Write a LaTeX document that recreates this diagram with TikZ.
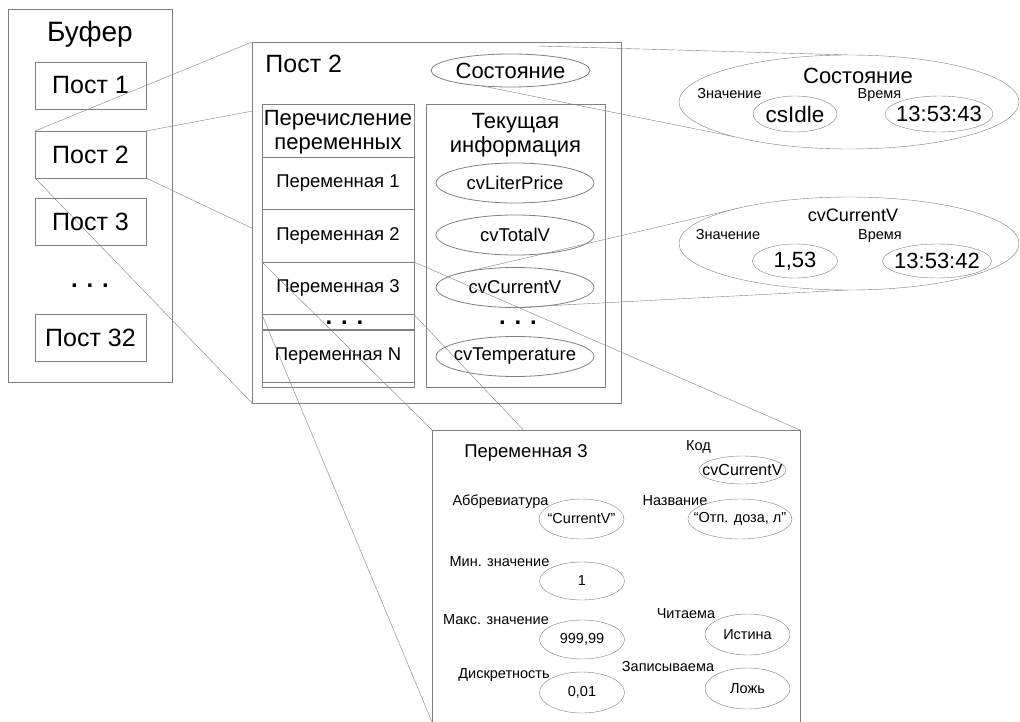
\documentclass[tikz,border=0pt]{standalone}
\usepackage{fontspec}
\setmainfont{Liberation Sans}
\usetikzlibrary{shapes.geometric}
\definecolor{linegray}{gray}{0.5}
\pgfdeclarelayer{back}
\pgfdeclarelayer{front}
\pgfsetlayers{back,main,front}
\newcommand{\fsz}[1]{\fontsize{#1}{#1}\selectfont}
\tikzset{
  panel/.style={draw=linegray, fill=white, inner sep=0pt, outer sep=0pt},
  cell/.style={draw=linegray, inner sep=0pt, outer sep=0pt, minimum width=152, minimum height=52.5, font=\fsz{18.5}},
  oval/.style={ellipse, draw=linegray, inner xsep=-30pt, inner ysep=-8pt, outer sep=0pt},
  bigoval/.style={oval, fill=white, minimum width=340, minimum height=94},
  value/.style={oval, minimum width=85, minimum height=40, font=\fsz{14.5}},
  link/.style={linegray},
  tag/.style={anchor=base, inner sep=0pt, font=\fsz{14.5}},
  headtext/.style={inner sep=0pt, align=center, font=\fontsize{22}{24}\selectfont},
  dots/.style={inner sep=0pt, font=\fsz{24}\bfseries},
}

\begin{document}
\begin{tikzpicture}[x=1pt, y=-1pt, line width=0.8pt]
\useasboundingbox (0,0) rectangle (1020,722);
% buffer of posts
\node[panel, fill=none, minimum width=164, minimum height=373] (buffer) at (90,195.5) {};
\node[anchor=base, inner sep=0pt, font=\fsz{28}] (buftitle) at (90,42) {Буфер};
\foreach \n/\y in {1/85.5, 2/154.5, 3/221.5, 32/337.5}
  \node[panel, fill=none, minimum width=111, minimum height=47, font=\fsz{25}] (post\n) at (90.5,\y) {Пост \n};
\node[dots] (bufdots) at (90,286) {. . .};

% post 2 in detail
\node[panel, minimum width=369, minimum height=361] (bigpost) at (436.5,222.5) {};
\node[anchor=base west, inner sep=0pt, font=\fsz{25}] (bigtitle) at (265,73) {Пост 2};
\node[oval, minimum width=159, minimum height=33, font=\fsz{22}] (sost) at (510.5,70.5) {Состояние};
% list of variables
\node[cell, minimum height=283] (varcol) at (338,245.5) {};
\node[cell, minimum height=53] (varhead) at (338,130.5) {};
\node[headtext] (varheadtxt) at (338,132.5) {Перечисление\\переменных};
\foreach \i/\y in {1/183.25, 2/235.75, 3/288.25}
  \node[cell] (var\i) at (338,\y) {Переменная \i};
\node[cell, minimum height=16] (vardotrow) at (338,322) {};
\node[dots] (vardots) at (344.5,323) {. . .};
\node[cell] (varN) at (338,356) {Переменная N};
% current info
\node[cell, minimum width=179, minimum height=283] (infocol) at (515.5,245.5) {};
\node[headtext] (infohead) at (515.5,135) {Текущая\\информация};
\foreach \v/\y/\t in {lp/183/cvLiterPrice, tv/235/cvTotalV, cur/287.5/cvCurrentV, temp/356.5/cvTemperature}
  \node[oval, minimum width=158, minimum height=40, font=\fsz{18.5}] (cv\v) at (515,\y) {\t};
\node[dots] (infodots) at (518,323) {. . .};

\begin{pgfonlayer}{front}
% state
\node[bigoval] (bigsost) at (849,102) {};
\node[anchor=base, inner sep=0pt, font=\fsz{22}] (sosttitle) at (858,83.5) {Состояние};
\node[tag] (sostvaltag) at (729.5,99) {Значение};
\node[tag] (sosttimetag) at (879.5,99) {Время};
\node[oval, minimum width=84, minimum height=36, font=\fsz{22.5}] (sostval) at (795,114) {csIdle};
\node[oval, minimum width=108, minimum height=36, font=\fsz{22}] (sosttime) at (939,114) {13:53:43};
% current value
\node[bigoval, minimum height=93] (bigcur) at (849,243.5) {};
\node[anchor=base, inner sep=0pt, font=\fsz{18}] (curtitle) at (853,221.5) {cvCurrentV};
\node[tag] (curvaltag) at (728,240) {Значение};
\node[tag] (curtimetag) at (880,240) {Время};
\node[oval, minimum width=85, minimum height=34, font=\fsz{22}] (curval) at (795,261) {1,53};
\node[oval, minimum width=109, minimum height=34, font=\fsz{22}] (curtime) at (937,261) {13:53:42};
% variable 3
\node[panel, minimum width=368, minimum height=310] (varbox) at (616,585) {};
\node[anchor=base, inner sep=0pt, font=\fsz{18.5}] (vartitle) at (526,457) {Переменная 3};
\node[tag] (codetag) at (698.5,450.5) {Код};
\node[value, minimum width=87, minimum height=28, font=\fsz{16}] (code) at (742.5,470) {cvCurrentV};
\node[tag] (abbrtag) at (500.5,505) {Аббревиатура};
\node[value] (abbr) at (581.5,519) {“CurrentV”};
\node[tag] (nametag) at (675,505) {Название};
\node[value, minimum width=104] (name) at (740,519) {“Отп. доза, л”};
\node[tag] (mintag) at (499.5,566) {Мин. значение};
\node[value, minimum height=38] (min) at (582,581) {1};
\node[tag] (maxtag) at (496,624) {Макс. значение};
\node[value, minimum height=39] (max) at (582,639.5) {999,99};
\node[tag] (readtag) at (686,618.5) {Читаема};
\node[value, minimum height=41] (read) at (747.5,634.5) {Истина};
\node[tag] (steptag) at (504,678.5) {Дискретность};
\node[value, minimum height=41] (stepval) at (582,692.5) {0,01};
\node[tag] (writetag) at (668,671.5) {Записываема};
\node[value, minimum height=41] (write) at (747.5,688.5) {Ложь};
\end{pgfonlayer}
\coordinate (cutL) at (432,722);
\coordinate (cutR) at (800,722);

% zoom lines
\begin{pgfonlayer}{back}
\foreach \c in {north west, north east, south west, south east}
  \draw[link] (post2.\c) -- (bigpost.\c);
\end{pgfonlayer}
\draw[link] (var3.north west) -- (varbox.north west);
\draw[link] (var3.north east) -- (varbox.north east);
\draw[link] (var3.south west) -- (cutL);
\draw[link] (var3.south east) -- (cutR);
\draw[link] ([shift={(27,-8)}]sost.north) -- (bigsost.north);
\draw[link] (sost.208) -- (bigsost.197);
\draw[link] (cvcur.168) -- (bigcur.162);
\draw[link] (cvcur.south) -- (bigcur.south);
\end{tikzpicture}
\end{document}
